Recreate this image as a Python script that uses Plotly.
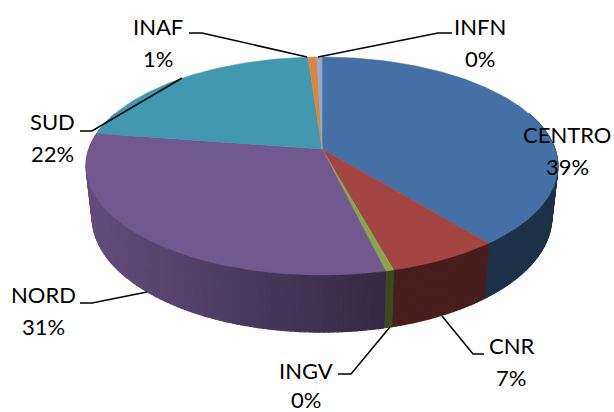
import math
import plotly.graph_objects as go

# ---- data ----
categories = ["CENTRO", "CNR", "INGV", "NORD", "SUD", "INAF", "INFN"]
values = [39.2, 6.6, 0.49, 31.11, 21.5, 0.7, 0.4]
percent_labels = ["39%", "7%", "0%", "31%", "22%", "1%", "0%"]
top_colors = ["#4470A5", "#A54541", "#8AA64C", "#71588F", "#4198AF", "#DB843D", "#93A9CF"]

W, H = 614, 412
CX = 322
K = 0.156
TOP = dict(A=233.0, a=-83.1, b=149.0)
BOT = dict(A=227.0, a=-81.0, b=199.3)


def project(theta_deg, plane, r=1.0):
    t = math.radians(theta_deg)
    u, v = r * math.sin(t), r * math.cos(t)
    w = 1 + K * v
    return CX + plane["A"] * u / w, (plane["a"] * v + plane["b"]) / w


def shade(col, f):
    r, g, b = int(col[1:3], 16), int(col[3:5], 16), int(col[5:7], 16)
    return "rgb(%d,%d,%d)" % (r * f, g * f, b * f)


def side_factor(x):
    if x >= 385:
        return 0.44
    return min(0.88, 0.47 + (385 - x) * 0.00139)


def poly(xs, ys, color, lw=0.6):
    return go.Scatter(x=xs, y=ys, mode="lines", fill="toself", fillcolor=color,
                      line=dict(color=color, width=lw), hoverinfo="skip", showlegend=False)


total = sum(values)
spans = []
acc = 0.0
for val in values:
    spans.append((acc / total * 360, (acc + val) / total * 360))
    acc += val

fig = go.Figure()

# side wall, back to front
strips = []
for (a0, a1), col in zip(spans, top_colors):
    n = max(1, int(math.ceil(a1 - a0)))
    for i in range(n):
        s0 = a0 + (a1 - a0) * i / n
        s1 = a0 + (a1 - a0) * (i + 1) / n
        mid = (s0 + s1) / 2
        if math.cos(math.radians(mid)) < 0.35:
            strips.append((s0, s1, mid, col))
strips.sort(key=lambda s: -math.cos(math.radians(s[2])))
for s0, s1, mid, col in strips:
    p = [project(s0, TOP), project(s1, TOP), project(s1, BOT), project(s0, BOT)]
    xm = project(mid, TOP)[0]
    fig.add_trace(poly([q[0] for q in p] + [p[0][0]], [q[1] for q in p] + [p[0][1]],
                       shade(col, side_factor(xm)), lw=1.2))

# top face
for (a0, a1), col in zip(spans, top_colors):
    n = max(2, int(math.ceil(a1 - a0)) + 1)
    arc = [project(a0 + (a1 - a0) * i / n, TOP) for i in range(n + 1)]
    xs = [CX] + [q[0] for q in arc] + [CX]
    ys = [TOP["b"]] + [q[1] for q in arc] + [TOP["b"]]
    fig.add_trace(poly(xs, ys, col))

# leader lines
leaders = [
    [(189, 33), (202, 33), (307, 57)],
    [(318, 57), (438, 33), (452, 33)],
    [(80, 131), (92, 131), (182, 78)],
    [(80, 303), (92, 303), (147, 292)],
    [(338, 374), (351, 374), (390, 327)],
    [(484, 354), (473, 354), (442, 316)],
]
for ln in leaders:
    fig.add_trace(go.Scatter(x=[p[0] for p in ln], y=[p[1] for p in ln], mode="lines",
                             line=dict(color="black", width=1.5), hoverinfo="skip", showlegend=False))

# labels: (x, y of name, y of percent)
label_pos = {
    "CENTRO": (567, 134, 166), "CNR": (511, 345, 377), "INGV": (306, 370, 399), "NORD": (43, 294, 326),
    "SUD": (52, 121, 153), "INAF": (158, 26, 58), "INFN": (480, 26, 58),
}
for name, pct in zip(categories, percent_labels):
    x, y0, y1 = label_pos[name]
    for txt, yy in ((name, y0), (pct, y1)):
        fig.add_annotation(x=x, y=yy, text=txt, showarrow=False, xanchor="center", yanchor="middle",
                           font=dict(family="Lato, Carlito, sans-serif", size=22, color="black"))

fig.update_layout(
    width=W, height=H, margin=dict(l=0, r=0, t=0, b=0),
    paper_bgcolor="white", plot_bgcolor="white", showlegend=False,
    xaxis=dict(range=[0, W], visible=False, fixedrange=True),
    yaxis=dict(range=[H, 0], visible=False, fixedrange=True),
)
fig.write_html("out.html", config={"displayModeBar": False},
               post_script="document.body.style.margin='0';document.body.style.overflow='hidden';")
